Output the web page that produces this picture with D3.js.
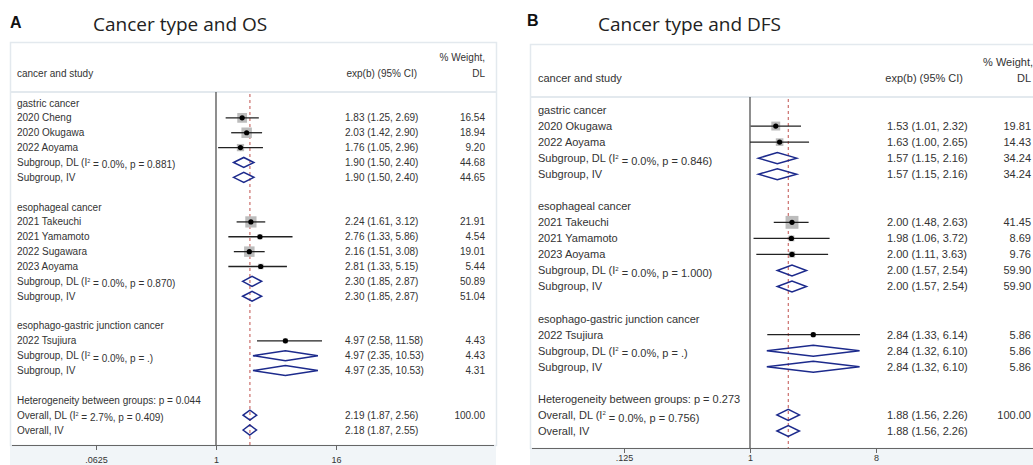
<!DOCTYPE html>
<html>
<head>
<meta charset="utf-8">
<script src="https://cdn.jsdelivr.net/npm/d3@7/dist/d3.min.js"></script>
<style>
  html, body { margin: 0; padding: 0; background: #fff; }
  svg { display: block; }
</style>
</head>
<body>
<svg id="chart" width="1033" height="465"></svg>
<script>
// ---- Panel A: cancer type and overall survival ----
const osLabels = ["gastric cancer", "2020 Cheng", "2020 Okugawa", "2022 Aoyama",
  "Subgroup, DL (I² = 0.0%, p = 0.881)", "Subgroup, IV", "",
  "esophageal cancer", "2021 Takeuchi", "2021 Yamamoto", "2022 Sugawara", "2023 Aoyama",
  "Subgroup, DL (I² = 0.0%, p = 0.870)", "Subgroup, IV", "",
  "esophago-gastric junction cancer", "2022 Tsujiura",
  "Subgroup, DL (I² = 0.0%, p = .)", "Subgroup, IV", "",
  "Heterogeneity between groups: p = 0.044",
  "Overall, DL (I² = 2.7%, p = 0.409)", "Overall, IV"];
const osKind = ["group", "study", "study", "study", "pool", "pool", "blank",
  "group", "study", "study", "study", "study", "pool", "pool", "blank",
  "group", "study", "pool", "pool", "blank", "note", "pool", "pool"];
const osEst    = [null, 1.83, 2.03, 1.76, 1.90, 1.90, null, null, 2.24, 2.76, 2.16, 2.81, 2.30, 2.30, null, null, 4.97, 4.97, 4.97, null, null, 2.19, 2.18];
const osLow    = [null, 1.25, 1.42, 1.05, 1.50, 1.50, null, null, 1.61, 1.33, 1.51, 1.33, 1.85, 1.85, null, null, 2.58, 2.35, 2.35, null, null, 1.87, 1.87];
const osHigh   = [null, 2.69, 2.90, 2.96, 2.40, 2.40, null, null, 3.12, 5.86, 3.08, 5.15, 2.87, 2.87, null, null, 11.58, 10.53, 10.53, null, null, 2.56, 2.55];
const osWeight = [null, 16.54, 18.94, 9.20, 44.68, 44.65, null, null, 21.91, 4.54, 19.01, 5.44, 50.89, 51.04, null, null, 4.43, 4.43, 4.31, null, null, 100.00, null];
const osTicks = [0.0625, 1, 16];
const osTickLabels = [".0625", "1", "16"];

// ---- Panel B: cancer type and disease-free survival ----
const dfsLabels = ["gastric cancer", "2020 Okugawa", "2022 Aoyama",
  "Subgroup, DL (I² = 0.0%, p = 0.846)", "Subgroup, IV", "",
  "esophageal cancer", "2021 Takeuchi", "2021 Yamamoto", "2023 Aoyama",
  "Subgroup, DL (I² = 0.0%, p = 1.000)", "Subgroup, IV", "",
  "esophago-gastric junction cancer", "2022 Tsujiura",
  "Subgroup, DL (I² = 0.0%, p = .)", "Subgroup, IV", "",
  "Heterogeneity between groups: p = 0.273",
  "Overall, DL (I² = 0.0%, p = 0.756)", "Overall, IV"];
const dfsKind = ["group", "study", "study", "pool", "pool", "blank",
  "group", "study", "study", "study", "pool", "pool", "blank",
  "group", "study", "pool", "pool", "blank", "note", "pool", "pool"];
const dfsEst    = [null, 1.53, 1.63, 1.57, 1.57, null, null, 2.00, 1.98, 2.00, 2.00, 2.00, null, null, 2.84, 2.84, 2.84, null, null, 1.88, 1.88];
const dfsLow    = [null, 1.01, 1.00, 1.15, 1.15, null, null, 1.48, 1.06, 1.11, 1.57, 1.57, null, null, 1.33, 1.32, 1.32, null, null, 1.56, 1.56];
const dfsHigh   = [null, 2.32, 2.65, 2.16, 2.16, null, null, 2.63, 3.72, 3.63, 2.54, 2.54, null, null, 6.14, 6.10, 6.10, null, null, 2.26, 2.26];
const dfsWeight = [null, 19.81, 14.43, 34.24, 34.24, null, null, 41.45, 8.69, 9.76, 59.90, 59.90, null, null, 5.86, 5.86, 5.86, null, null, 100.00, null];
const dfsTicks = [0.125, 1, 8];
const dfsTickLabels = [".125", "1", "8"];

const svg = d3.select("#chart");
const TXT = "#333";
const tableFont = "'Liberation Sans', Arial, sans-serif";

function addLabel(sel, label) {
  // render "I²" with a raised small 2
  const parts = label.split("²");
  sel.append("tspan").text(parts[0]);
  if (parts.length > 1) {
    sel.append("tspan").attr("dy", "-0.55em").attr("font-size", "0.55em").text("2");
    sel.append("tspan").attr("dy", "0.55em").text(" " + parts[1].replace(/^ /, ""));
  }
}

function drawPanel(p) {
  const g = svg.append("g");
  const n = p.labels.length;
  const rows = d3.range(n).map(i => ({
    label: p.labels[i], kind: p.kind[i], est: p.est[i], lo: p.low[i], hi: p.high[i], w: p.weight[i]
  }));

  const x = d3.scaleLog().base(2).domain(p.domain).range(p.xRange);
  const y = d3.scaleLinear().domain([0, n - 1]).range(p.yRange);
  const sq = d3.scaleSqrt().domain([0, 100]).range([0, p.sqMax]);

  // frame
  g.append("rect").attr("x", p.box[0]).attr("y", p.axisY).attr("width", p.box[1] - p.box[0])
    .attr("height", 465 - p.axisY).attr("fill", "#f1f5f8");
  g.append("rect").attr("x", p.box[0] + 0.5).attr("y", p.top + 0.5)
    .attr("width", p.box[1] - p.box[0]).attr("height", p.axisY - p.top)
    .attr("fill", "none").attr("stroke", "#e3e9ee").attr("stroke-width", 1.5);
  g.append("line").attr("x1", p.box[0]).attr("x2", p.box[1])
    .attr("y1", p.headY).attr("y2", p.headY).attr("stroke", "#e3e9ee").attr("stroke-width", 2);

  // panel letter and title
  svg.append("text").attr("x", p.letterX).attr("y", p.letterY).text(p.letter)
    .attr("font-family", "'Liberation Sans', Arial, sans-serif").attr("font-weight", "bold")
    .attr("font-size", 16).attr("fill", "#111");
  svg.append("text").attr("x", p.titleX).attr("y", p.titleY).text(p.title)
    .attr("font-family", "'Open Sans', sans-serif").attr("font-size", p.titleSize).attr("fill", "#222");

  // column headers
  const hdr = g.append("g").attr("font-family", tableFont).attr("font-size", p.fs).attr("fill", TXT);
  hdr.append("text").attr("x", p.labelX).attr("y", p.hdrY2).text("cancer and study");
  hdr.append("text").attr("x", p.ciHdrRight).attr("y", p.hdrY2).attr("text-anchor", "end").text("exp(b) (95% CI)");
  hdr.append("text").attr("x", p.wHdrRight).attr("y", p.hdrY1).attr("text-anchor", "end").text("% Weight,");
  hdr.append("text").attr("x", p.wRight).attr("y", p.hdrY2).attr("text-anchor", "end").text("DL");

  // x axis
  const axis = d3.axisBottom(x).tickValues(p.ticks)
    .tickFormat((d, i) => p.tickLabels[i]).tickSize(5).tickPadding(p.tickPad);
  const ax = g.append("g").attr("transform", `translate(0,${p.axisY})`).call(axis);
  ax.select(".domain").attr("d", `M${p.box[0] + 2},0.5H${p.box[1] - 2}`).attr("stroke", "#666");
  ax.selectAll(".tick line").attr("stroke", "#666");
  ax.selectAll(".tick text").attr("font-family", tableFont).attr("font-size", 9).attr("fill", TXT);

  // null line and overall dashed line
  g.append("line").attr("x1", x(1)).attr("x2", x(1)).attr("y1", p.headY).attr("y2", p.axisY)
    .attr("stroke", "#444").attr("stroke-width", 1.2);
  const overall = rows.find(r => r.kind === "pool" && r.label.startsWith("Overall, DL"));
  g.append("line").attr("x1", x(overall.est)).attr("x2", x(overall.est))
    .attr("y1", p.headY + 2).attr("y2", p.axisY)
    .attr("stroke", "#c0504d").attr("stroke-width", 1).attr("stroke-dasharray", "3,3");

  // study markers: weight square, CI line, point
  const studies = rows.map((r, i) => ({ ...r, i })).filter(r => r.kind === "study");
  g.selectAll("rect.wsq").data(studies).join("rect").attr("class", "wsq")
    .attr("x", d => x(d.est) - sq(d.w) / 2).attr("y", d => y(d.i) - sq(d.w) / 2)
    .attr("width", d => sq(d.w)).attr("height", d => sq(d.w))
    .attr("fill", "#bcbcbc");
  g.selectAll("line.ci").data(studies).join("line").attr("class", "ci")
    .attr("x1", d => x(d.lo)).attr("x2", d => x(d.hi))
    .attr("y1", d => y(d.i)).attr("y2", d => y(d.i))
    .attr("stroke", "#222").attr("stroke-width", 1.3);
  g.selectAll("circle.pt").data(studies).join("circle").attr("class", "pt")
    .attr("cx", d => x(d.est)).attr("cy", d => y(d.i)).attr("r", 2.6).attr("fill", "#000");

  // pooled diamonds
  const pools = rows.map((r, i) => ({ ...r, i })).filter(r => r.kind === "pool");
  g.selectAll("path.dia").data(pools).join("path").attr("class", "dia")
    .attr("d", d => {
      const cy = y(d.i), h = p.diaH;
      return `M${x(d.lo)},${cy}L${x(d.est)},${cy - h}L${x(d.hi)},${cy}L${x(d.est)},${cy + h}Z`;
    })
    .attr("fill", "none").attr("stroke", "#1c2a8c").attr("stroke-width", 1.5);

  // text columns
  const tg = g.append("g").attr("font-family", tableFont).attr("font-size", p.fs).attr("fill", TXT);
  rows.forEach((r, i) => {
    if (r.kind === "blank") return;
    const t = tg.append("text").attr("x", p.labelX).attr("y", y(i)).attr("dy", "0.35em");
    addLabel(t, r.label);
    if (r.est != null) {
      tg.append("text").attr("x", p.ciX).attr("y", y(i)).attr("dy", "0.35em")
        .text(`${r.est.toFixed(2)} (${r.lo.toFixed(2)}, ${r.hi.toFixed(2)})`);
    }
    if (r.w != null) {
      tg.append("text").attr("x", p.wRight).attr("y", y(i)).attr("dy", "0.35em")
        .attr("text-anchor", "end").text(r.w.toFixed(2));
    }
  });
}

drawPanel({
  letter: "A", letterX: 10, letterY: 28, title: "Cancer type and OS", titleX: 93, titleY: 31, titleSize: 19,
  labels: osLabels, kind: osKind, est: osEst, low: osLow, high: osHigh, weight: osWeight,
  ticks: osTicks, tickLabels: osTickLabels,
  domain: [0.0625, 16], xRange: [96, 336], yRange: [103, 430],
  box: [10, 496], top: 42, headY: 92, axisY: 445, tickPad: 7,
  labelX: 17, ciX: 345, ciHdrRight: 417, wRight: 485, wHdrRight: 485, hdrY1: 61, hdrY2: 77,
  fs: 10, sqMax: 24, diaH: 5
});

drawPanel({
  letter: "B", letterX: 527, letterY: 26, title: "Cancer type and DFS", titleX: 598, titleY: 31, titleSize: 19,
  labels: dfsLabels, kind: dfsKind, est: dfsEst, low: dfsLow, high: dfsHigh, weight: dfsWeight,
  ticks: dfsTicks, tickLabels: dfsTickLabels,
  domain: [0.125, 8], xRange: [624, 876], yRange: [110, 431],
  box: [530, 1045], top: 44, headY: 97, axisY: 448, tickPad: 2,
  labelX: 538, ciX: 887, ciHdrRight: 963, wRight: 1031, wHdrRight: 1033, hdrY1: 66, hdrY2: 82,
  fs: 11, sqMax: 20, diaH: 5.5
});
</script>
</body>
</html>
